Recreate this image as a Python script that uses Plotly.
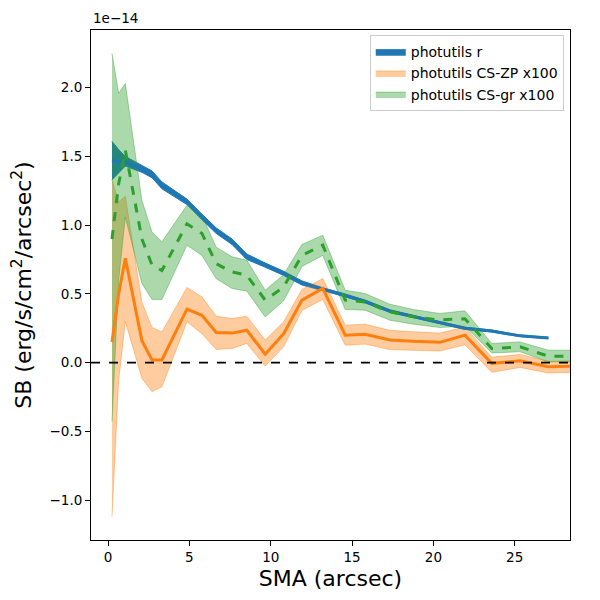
import plotly.graph_objects as go

# SMA sample points (arcsec), SB values in units of 1e-14 erg/s/cm^2/arcsec^2
sma = [0.24, 0.65, 1.06, 2.08, 2.70, 3.31, 4.85, 5.77, 6.65, 7.62, 8.53, 9.66, 10.79,
       11.92, 13.2, 14.58, 15.8, 17.33, 18.77, 20.4, 21.94, 23.59, 25.33, 27.07, 28.9]

# photutils r (ends one point earlier)
r_mid = [1.47, 1.46, 1.46, 1.41, 1.37, 1.29, 1.17, 1.06, 0.96, 0.88, 0.77, 0.71, 0.65,
         0.58, 0.535, 0.49, 0.445, 0.375, 0.335, 0.29, 0.25, 0.23, 0.195, 0.18]
r_hi = [1.61, 1.55, 1.50, 1.435, 1.395, 1.315, 1.19, 1.08, 0.98, 0.90, 0.79, 0.725, 0.665,
        0.595, 0.545, 0.50, 0.455, 0.385, 0.343, 0.298, 0.258, 0.237, 0.20, 0.185]
r_lo = [1.33, 1.38, 1.43, 1.385, 1.345, 1.265, 1.15, 1.04, 0.94, 0.86, 0.75, 0.695, 0.635,
        0.565, 0.525, 0.48, 0.435, 0.365, 0.327, 0.282, 0.242, 0.223, 0.19, 0.175]

# photutils CS-ZP x100
zp_mid = [0.15, 0.50, 0.76, 0.16, 0.02, 0.02, 0.39, 0.345, 0.22, 0.215, 0.236, 0.062, 0.21,
          0.455, 0.54, 0.20, 0.207, 0.165, 0.155, 0.148, 0.20, -0.005, 0.013, -0.03, -0.025]
zp_hi = [1.33, 1.17, 1.21, 0.44, 0.256, 0.224, 0.547, 0.479, 0.338, 0.321, 0.338, 0.164, 0.297,
         0.532, 0.612, 0.273, 0.28, 0.235, 0.225, 0.215, 0.26, 0.04, 0.06, 0.01, 0.015]
zp_lo = [-1.12, -0.13, 0.30, -0.115, -0.21, -0.176, 0.297, 0.21, 0.096, 0.103, 0.14, -0.025, 0.115,
         0.38, 0.46, 0.127, 0.135, 0.095, 0.09, 0.085, 0.13, -0.07, -0.035, -0.075, -0.07]

# photutils CS-gr x100
gr_mid = [0.90, 1.30, 1.545, 0.90, 0.71, 0.67, 1.01, 0.94, 0.72, 0.66, 0.636, 0.455, 0.55,
          0.78, 0.855, 0.455, 0.442, 0.37, 0.333, 0.31, 0.32, 0.103, 0.115, 0.047, 0.047]
gr_hi = [2.25, 1.96, 2.03, 1.18, 0.95, 0.88, 1.145, 1.07, 0.84, 0.77, 0.745, 0.527, 0.64,
         0.86, 0.927, 0.527, 0.503, 0.425, 0.387, 0.358, 0.377, 0.14, 0.151, 0.091, 0.091]
gr_lo = [-0.43, 0.60, 1.06, 0.576, 0.46, 0.46, 0.855, 0.78, 0.61, 0.54, 0.52, 0.333, 0.45,
         0.70, 0.78, 0.387, 0.382, 0.309, 0.28, 0.256, 0.265, 0.071, 0.079, 0.006, 0.006]

BLUE = "#1f77b4"
ORANGE = "#ff7f0e"
GREEN = "#2ca02c"

fig = go.Figure()

# zero reference line
fig.add_hline(y=0, line=dict(color="black", width=1.8, dash="dash"))


def add_band(x, lo, hi, fill, edge, name):
    fig.add_trace(go.Scatter(x=x, y=lo, mode="lines", line=dict(color=edge, width=1),
                             showlegend=False, hoverinfo="skip"))
    fig.add_trace(go.Scatter(x=x, y=hi, mode="lines", line=dict(color=edge, width=1),
                             fill="tonexty", fillcolor=fill, name=name))


add_band(sma[:len(r_mid)], r_lo, r_hi, BLUE, BLUE, "photutils r")
add_band(sma, zp_lo, zp_hi, "rgba(255,127,14,0.4)", "rgba(255,127,14,0.4)", "photutils CS-ZP x100")
add_band(sma, gr_lo, gr_hi, "rgba(44,160,44,0.4)", "rgba(44,160,44,0.4)", "photutils CS-gr x100")

fig.add_trace(go.Scatter(x=sma[:len(r_mid)], y=r_mid, mode="lines",
                         line=dict(color=BLUE, width=3), showlegend=False))
fig.add_trace(go.Scatter(x=sma, y=zp_mid, mode="lines",
                         line=dict(color=ORANGE, width=3), showlegend=False))
fig.add_trace(go.Scatter(x=sma, y=gr_mid, mode="lines",
                         line=dict(color=GREEN, width=3, dash="dash"), showlegend=False))

axis_style = dict(showline=True, mirror=True, linecolor="black", linewidth=1,
                  ticks="outside", ticklen=5, tickcolor="black", showgrid=False,
                  zeroline=False, automargin=False, tickfont=dict(size=13.5, color="black"))

fig.update_xaxes(range=[-1.05, 28.4], tickvals=[0, 5, 10, 15, 20, 25],
                 title=dict(text="SMA (arcsec)", font=dict(size=22, color="black"), standoff=6),
                 **axis_style)
fig.update_yaxes(range=[-1.29, 2.42], tickvals=[-1.0, -0.5, 0.0, 0.5, 1.0, 1.5, 2.0],
                 tickformat=".1f",
                 title=dict(text="SB (erg/s/cm<sup>2</sup>/arcsec<sup>2</sup>)",
                            font=dict(size=22, color="black"), standoff=12),
                 **axis_style)

fig.add_annotation(text="1e\u221214", xref="paper", yref="paper", x=0, y=1,
                   xanchor="left", yanchor="bottom", showarrow=False,
                   font=dict(size=13.5, color="black"), yshift=2)

fig.update_layout(
    width=592, height=592,
    margin=dict(l=83, r=30, t=22, b=60),
    plot_bgcolor="white", paper_bgcolor="white",
    font=dict(family="DejaVu Sans", color="black"),
    legend=dict(x=0.987, y=0.99, xanchor="right", yanchor="top", traceorder="normal",
                bgcolor="rgba(255,255,255,0.8)", bordercolor="#cccccc", borderwidth=1,
                font=dict(size=14), tracegroupgap=2),
)

fig.write_html("out.html")
